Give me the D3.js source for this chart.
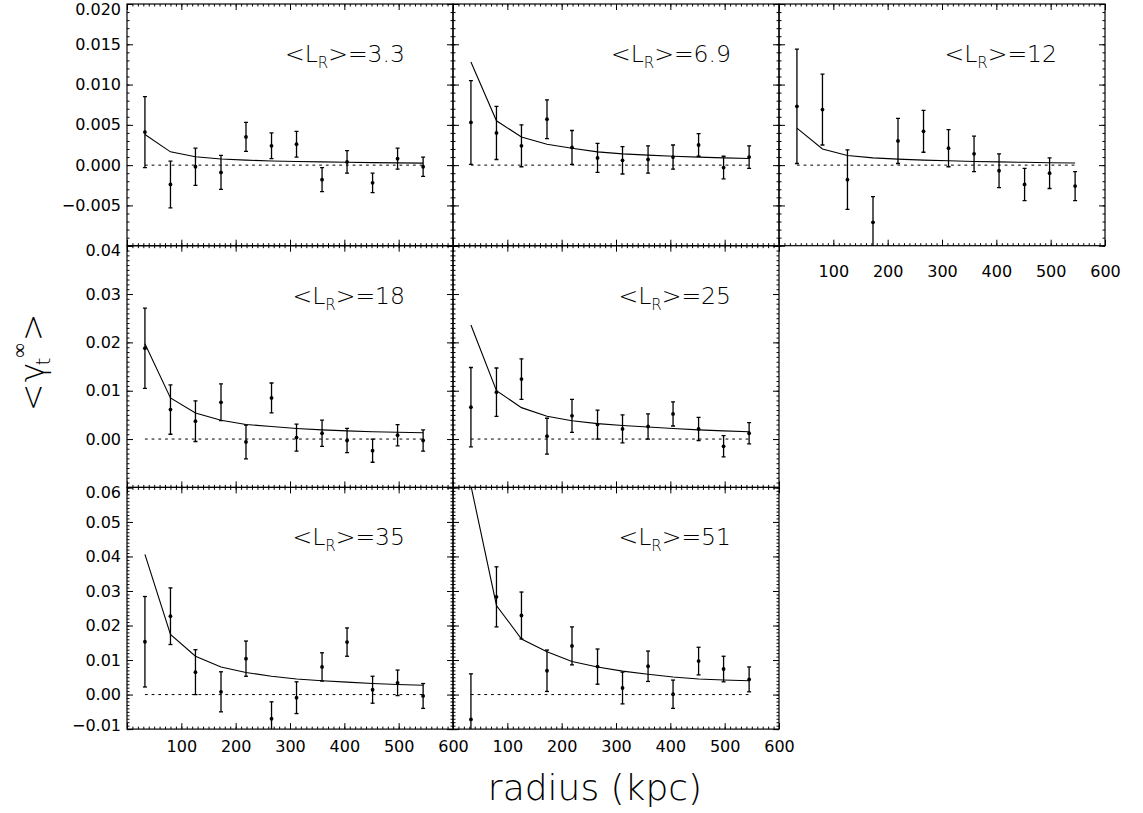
<!DOCTYPE html>
<html>
<head>
<meta charset="utf-8">
<script src="https://cdn.jsdelivr.net/npm/d3@7"></script>
<style>
body { margin: 0; background: #fff; }
svg { display: block; }
</style>
</head>
<body>
<div id="chart"></div>
<script>
// radial bin centres (kpc)
var radii = [33, 80, 126, 173, 219, 266, 312, 359, 405, 452, 498, 545];

// mean luminosity of each bin
var lumLabels = ["3.3", "6.9", "12", "18", "25", "35", "51"];

// measured tangential shear, its error, and the model curve, one set per bin
var shear33 = [0.0041, -0.0024, -0.0002, -0.0009, 0.0035, 0.0024, 0.0026, -0.0018, 0.0004, -0.0022, 0.0008, -0.0002];
var err33   = [0.0044, 0.0029, 0.0023, 0.0021, 0.0018, 0.0016, 0.0016, 0.0015, 0.0014, 0.0012, 0.0013, 0.0012];
var model33 = [0.0038, 0.00165, 0.00105, 0.00077, 0.00062, 0.00052, 0.00045, 0.0004, 0.00035, 0.00031, 0.00028, 0.00025];

var shear69 = [0.0053, 0.0040, 0.0024, 0.0057, 0.0022, 0.0009, 0.0006, 0.0007, 0.0010, 0.0025, -0.0003, 0.0010];
var err69   = [0.0052, 0.0033, 0.0026, 0.0024, 0.0021, 0.0018, 0.0017, 0.0017, 0.0015, 0.0014, 0.0014, 0.0014];
var model69 = [0.0128, 0.0055, 0.0035, 0.0026, 0.0021, 0.00165, 0.0014, 0.00124, 0.0011, 0.0010, 0.0009, 0.00083];

var shear12 = [0.0073, 0.0069, -0.0018, -0.0071, 0.0030, 0.0042, 0.0021, 0.0014, -0.0007, -0.0024, -0.0010, -0.0026];
var err12   = [0.0071, 0.0044, 0.0037, 0.0032, 0.0028, 0.0026, 0.0023, 0.0022, 0.0021, 0.0020, 0.0019, 0.0018];
var model12 = [0.0046, 0.0020, 0.0012, 0.0009, 0.00074, 0.00062, 0.00054, 0.00046, 0.0004, 0.00035, 0.0003, 0.00027];

var shear18 = [0.0188, 0.0061, 0.0037, 0.0076, -0.0006, 0.0085, 0.0003, 0.0012, -0.0003, -0.0024, 0.0008, -0.0003];
var err18   = [0.0083, 0.0051, 0.0042, 0.0038, 0.0035, 0.0031, 0.0028, 0.0027, 0.0025, 0.0024, 0.0022, 0.0022];
var model18 = [0.0197, 0.0085, 0.0054, 0.0039, 0.0030, 0.0026, 0.0022, 0.0019, 0.0017, 0.0015, 0.0014, 0.0013];

var shear25 = [0.0066, 0.0097, 0.0124, 0.0006, 0.0048, 0.0030, 0.0021, 0.0026, 0.0052, 0.0021, -0.0015, 0.0012];
var err25   = [0.0082, 0.0050, 0.0042, 0.0037, 0.0034, 0.0030, 0.0029, 0.0026, 0.0025, 0.0024, 0.0022, 0.0022];
var model25 = [0.0236, 0.0100, 0.0065, 0.0047, 0.0038, 0.0032, 0.0028, 0.0025, 0.0022, 0.0019, 0.0017, 0.0015];

var shear35 = [0.0153, 0.0227, 0.0065, 0.0008, 0.0104, -0.0070, -0.0009, 0.0080, 0.0152, 0.0014, 0.0034, -0.0004];
var err35   = [0.0131, 0.0082, 0.0065, 0.0058, 0.0051, 0.0049, 0.0046, 0.0041, 0.0041, 0.0039, 0.0037, 0.0036];
var model35 = [0.0406, 0.0174, 0.0111, 0.0080, 0.0064, 0.0053, 0.0045, 0.0040, 0.0036, 0.0032, 0.0029, 0.0027];

var shear51 = [-0.0072, 0.0283, 0.0229, 0.0069, 0.0141, 0.0081, 0.0019, 0.0082, 0.0001, 0.0097, 0.0074, 0.0044];
var err51   = [0.0132, 0.0087, 0.0068, 0.0060, 0.0055, 0.0051, 0.0046, 0.0044, 0.0041, 0.0040, 0.0037, 0.0036];
var model51 = [0.0605, 0.0258, 0.0161, 0.0124, 0.0096, 0.0080, 0.0068, 0.0059, 0.0051, 0.0045, 0.0042, 0.0040];

// axis ticks
var xTicks = [0, 100, 200, 300, 400, 500, 600];
var xLabels = [100, 200, 300, 400, 500, 600];
var yDomains = [[-0.010, 0.020], [-0.01, 0.04], [-0.01, 0.06]];
var yTicks = [
	[-0.010, -0.005, 0.000, 0.005, 0.010, 0.015, 0.020],
	[-0.01, 0.00, 0.01, 0.02, 0.03, 0.04],
	[-0.01, 0.00, 0.01, 0.02, 0.03, 0.04, 0.05, 0.06]
];
var yLabels = [
	[-0.005, 0.000, 0.005, 0.010, 0.015, 0.020],
	[0.00, 0.01, 0.02, 0.03, 0.04],
	[-0.01, 0.00, 0.01, 0.02, 0.03, 0.04, 0.05, 0.06]
];
var yFormats = [".3f", ".2f", ".2f"];

var panels = [
	{label: lumLabels[0], row: 0, col: 0, shear: shear33, err: err33, model: model33},
	{label: lumLabels[1], row: 0, col: 1, shear: shear69, err: err69, model: model69},
	{label: lumLabels[2], row: 0, col: 2, shear: shear12, err: err12, model: model12},
	{label: lumLabels[3], row: 1, col: 0, shear: shear18, err: err18, model: model18},
	{label: lumLabels[4], row: 1, col: 1, shear: shear25, err: err25, model: model25},
	{label: lumLabels[5], row: 2, col: 0, shear: shear35, err: err35, model: model35},
	{label: lumLabels[6], row: 2, col: 1, shear: shear51, err: err51, model: model51}
];

var width = 1143, height = 813;
var margin = {left: 127, top: 4};
var panelW = 326, panelH = 241.7;
var tickFont = 'DejaVu Sans';

var svg = d3.select('#chart').append('svg')
	.attr('width', width)
	.attr('height', height);
var defs = svg.append('defs');

panels.forEach(function(p, i) {
	var x0 = margin.left + p.col * panelW;
	var y0 = margin.top + p.row * panelH;
	var showX = (p.row == 2) || (p.row == 0 && p.col == 2);
	var showY = p.col == 0;

	var x = d3.scaleLinear().domain([0, 600]).range([0, panelW]);
	var y = d3.scaleLinear().domain(yDomains[p.row]).range([panelH, 0]);

	var g = svg.append('g').attr('transform', 'translate(' + x0 + ',' + y0 + ')');

	defs.append('clipPath').attr('id', 'clip' + i)
		.append('rect')
		.attr('x', 0).attr('y', 0)
		.attr('width', panelW).attr('height', panelH);

	var plot = g.append('g').attr('clip-path', 'url(#clip' + i + ')');

	// zero line
	plot.append('line')
		.attr('x1', x(radii[0])).attr('x2', x(radii[radii.length - 1]))
		.attr('y1', y(0)).attr('y2', y(0))
		.style('stroke', '#000').style('stroke-width', 1)
		.style('stroke-dasharray', '2.8,3.9');

	// model curve
	var line = d3.line()
		.x(function(d, j) { return x(radii[j]); })
		.y(function(d) { return y(d); });
	plot.append('path')
		.datum(p.model)
		.attr('d', line)
		.style('fill', 'none').style('stroke', '#000').style('stroke-width', 1.1);

	// error bars
	var bars = plot.selectAll('.ebar').data(p.shear).enter().append('g').attr('class', 'ebar');
	bars.append('line')
		.attr('x1', function(d, j) { return x(radii[j]); })
		.attr('x2', function(d, j) { return x(radii[j]); })
		.attr('y1', function(d, j) { return y(d - p.err[j]); })
		.attr('y2', function(d, j) { return y(d + p.err[j]); })
		.style('stroke', '#000').style('stroke-width', 1.3);
	[-1, 1].forEach(function(s) {
		bars.append('line')
			.attr('x1', function(d, j) { return x(radii[j]) - 2; })
			.attr('x2', function(d, j) { return x(radii[j]) + 2; })
			.attr('y1', function(d, j) { return y(d + s * p.err[j]); })
			.attr('y2', function(d, j) { return y(d + s * p.err[j]); })
			.style('stroke', '#000').style('stroke-width', 1.3);
	});
	bars.append('circle')
		.attr('cx', function(d, j) { return x(radii[j]); })
		.attr('cy', function(d) { return y(d); })
		.attr('r', 1.9)
		.style('fill', '#000');

	// ticks on all four sides, pointing in
	var minorX = d3.range(0, 601, 10);
	var lo = Math.round(yDomains[p.row][0] * 1000), hi = Math.round(yDomains[p.row][1] * 1000);
	var minorY = d3.range(lo, hi + 1).map(function(k) { return k / 1000; });
	var noText = function() { return ''; };
	var fmtY = d3.format(yFormats[p.row]);

	var xb = g.append('g').attr('transform', 'translate(0,' + panelH + ')');
	xb.append('g').call(d3.axisBottom(x).tickValues(minorX).tickSize(-2.5).tickFormat(noText));
	xb.append('g').call(d3.axisBottom(x).tickValues(xTicks).tickSize(-6)
		.tickPadding(p.row == 0 ? 20 : 12)
		.tickFormat(function(d) { return showX && xLabels.indexOf(d) >= 0 ? d : ''; }));

	var xt = g.append('g');
	xt.append('g').call(d3.axisTop(x).tickValues(minorX).tickSize(-2.5).tickFormat(noText));
	xt.append('g').call(d3.axisTop(x).tickValues(xTicks).tickSize(-6).tickFormat(noText));

	var yl = g.append('g');
	yl.append('g').call(d3.axisLeft(y).tickValues(minorY).tickSize(-2.5).tickFormat(noText));
	var ylMaj = yl.append('g').call(d3.axisLeft(y).tickValues(yTicks[p.row]).tickSize(-6).tickPadding(6)
		.tickFormat(function(d) {
			return showY && yLabels[p.row].some(function(v) { return Math.abs(v - d) < 1e-9; }) ? fmtY(d) : '';
		}));
	// keep end labels inside the panel height
	ylMaj.selectAll('.tick text')
		.attr('y', function(d) {
			if (Math.abs(d - yDomains[p.row][1]) < 1e-9) return 5;
			if (Math.abs(d - yDomains[p.row][0]) < 1e-9) return -4;
			return 0;
		});

	var yr = g.append('g').attr('transform', 'translate(' + panelW + ',0)');
	yr.append('g').call(d3.axisRight(y).tickValues(minorY).tickSize(-2.5).tickFormat(noText));
	yr.append('g').call(d3.axisRight(y).tickValues(yTicks[p.row]).tickSize(-6).tickFormat(noText));

	g.selectAll('.domain').remove();
	g.selectAll('.tick line').style('stroke', '#000').style('stroke-width', 1);
	g.selectAll('.tick text')
		.style('font-family', tickFont)
		.style('font-size', '16px')
		.style('fill', '#000');

	// frame
	g.append('rect')
		.attr('width', panelW).attr('height', panelH)
		.style('fill', 'none').style('stroke', '#000').style('stroke-width', 1.2);

	// <L_R> annotation
	var t = g.append('text')
		.attr('x', panelW - 48).attr('y', 58)
		.attr('text-anchor', 'end')
		.style('font-family', tickFont).style('font-weight', 200)
		.style('font-size', '23.5px').style('fill', '#000');
	t.append('tspan').text('<L');
	t.append('tspan').attr('dy', 6).style('font-size', '15px').text('R');
	t.append('tspan').attr('dy', -6).text('>=' + p.label);
});

// axis titles
svg.append('text')
	.attr('x', 595).attr('y', 800)
	.attr('text-anchor', 'middle')
	.style('font-family', tickFont).style('font-weight', 200)
	.style('font-size', '36px').style('fill', '#000')
	.text('radius (kpc)');

var yt = svg.append('g').attr('transform', 'translate(44,362) rotate(-90)');
var ytGlyphs = [
	{s: '<', x: -35.5, y: 0, size: 33},
	{s: 'γ', x: -10.5, y: 0, size: 33},
	{s: 't', x: 0.5, y: 6, size: 20},
	{s: '∞', x: 11.5, y: -18, size: 20},
	{s: '>', x: 34.5, y: 0, size: 33}
];
yt.selectAll('text').data(ytGlyphs).enter().append('text')
	.attr('x', function(d) { return d.x; })
	.attr('y', function(d) { return d.y; })
	.attr('text-anchor', 'middle')
	.style('font-family', tickFont).style('font-weight', 200)
	.style('font-size', function(d) { return d.size + 'px'; })
	.style('fill', '#000')
	.text(function(d) { return d.s; });
</script>
</body>
</html>
